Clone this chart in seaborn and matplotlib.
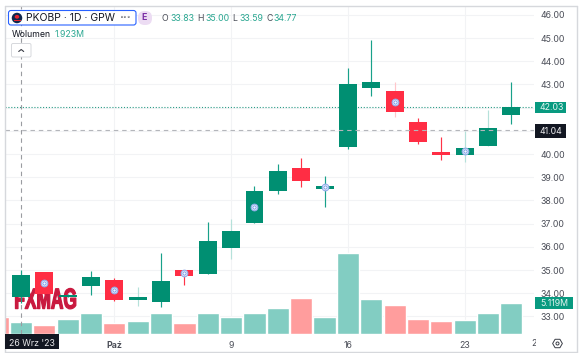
import matplotlib
matplotlib.use("Agg")
import matplotlib.pyplot as plt
import numpy as np
import pandas as pd
import seaborn as sns
from matplotlib import font_manager as fm
from matplotlib.patches import Rectangle, FancyBboxPatch, Ellipse
from matplotlib.patheffects import AbstractPathEffect
from matplotlib.transforms import Affine2D, Bbox

# ---------- data ----------
sessions = list(range(22))
opens  = [33.83,34.91,33.85,34.32,34.57,33.72,33.63,34.99,34.83,35.96,37.03,38.40,39.40,38.50,40.31,42.86,42.72,41.37,40.09,39.97,40.34,41.69]
closes = [34.77,33.97,33.92,34.70,33.71,33.85,34.54,34.76,36.26,36.68,38.40,39.28,38.84,38.62,43.00,43.09,41.80,40.50,39.97,40.26,41.11,42.03]
highs  = [35.00,34.93,33.95,34.97,34.66,34.25,35.75,34.99,37.07,37.20,38.62,39.57,39.83,39.05,43.69,44.91,43.09,41.55,40.73,41.00,41.90,43.09]
lows   = [33.59,33.95,33.83,33.93,33.68,33.45,33.39,34.35,34.83,35.49,37.03,38.28,38.59,37.73,40.23,42.50,41.61,40.43,39.74,39.66,40.34,41.29]
vol_sessions = list(range(-1,22))
volumes = [2.78,1.923,1.42,2.41,3.39,1.85,2.18,3.49,1.85,3.49,2.73,3.39,4.26,5.89,2.73,13.31,5.68,4.80,2.41,2.08,2.29,3.49,5.119]
vol_prev_dir = "down"
marked_sessions = [1,4,7,10,13,16,19]
faded_wicks = [5,9,16,19,20]
price_ticks = list(range(33,47))
date_ticks = [4,9,14,19]
date_labels = ["Paź","9","16","23"]
last_price, cross_price = 42.03, 41.04

# ---------- colours ----------
GREEN, RED = "#008f72", "#ff2d44"
WG, WR = "#18a18a", "#ff3347"
WGF, WRF = "#b5e1da", "#ffc6ca"
VG, VR = "#82cdc2", "#ff9d9d"
GRID, BORDER = "#f2f3f5", "#d6d8dc"
TXT, DARK = "#4a4d57", "#131722"
TEAL = "#2aa791"
FS = 6.3

sns.set_theme(style="white")
plt.rcParams["font.family"] = ["Inter", "DejaVu Sans"]
W, H = 583, 353
fig = plt.figure(figsize=(W/100, H/100), dpi=100, facecolor="white")

L, R, T, B = 5, 534, 6, 334
rect = [L/W, 1-B/H, (R-L)/W, (B-T)/H]
axv = fig.add_axes(rect, zorder=1)
ax = fig.add_axes(rect, zorder=2)
ax.patch.set_visible(False)

def fx(x): return x/W
def fy(y): return 1-y/H
def ftext(x, y, s, **kw):
    kw.setdefault("va", "center"); kw.setdefault("ha", "left")
    kw.setdefault("fontsize", FS); kw.setdefault("color", TXT); kw.setdefault("zorder", 10)
    return fig.text(fx(x), fy(y), s, **kw)
def frect(x0, y0, x1, y1, **kw):
    kw.setdefault("zorder", 9)
    p = Rectangle((fx(x0), fy(y1)), (x1-x0)/W, (y1-y0)/H, transform=fig.transFigure, lw=kw.pop("lw", 0), **kw)
    fig.add_artist(p); return p

# ---------- volume ----------
dirs = [vol_prev_dir] + ["up" if c >= o else "down" for o, c in zip(opens, closes)]
vdf = pd.DataFrame({"session": vol_sessions, "volume": volumes, "dir": dirs})
sns.barplot(data=vdf, x="session", y="volume", hue="dir", palette={"up": VG, "down": VR},
            native_scale=True, dodge=False, width=0.95, saturation=1, legend=False, ax=axv, zorder=3)
axv.set_xlabel(""); axv.set_ylabel("")
x_l, x_r = -0.685, 21.97
axv.set_xlim(x_l, x_r)
axv.set_ylim(0, (B-T)/6.11)
axv.set_xticks([]); axv.set_yticks([])
for s in axv.spines.values(): s.set_visible(False)

# ---------- candles ----------
ax.set_xlim(x_l, x_r)
ax.set_ylim(40-(B-154)/23.2, 40+(154-T)/23.2)
for s in ax.spines.values(): s.set_visible(False)
y0, y1 = ax.get_ylim()
for p in price_ticks:
    axv.plot([0,1], [(p-y0)/(y1-y0)]*2, transform=axv.transAxes, color=GRID, lw=0.8, zorder=1)
for d in date_ticks:
    axv.axvline(d, color=GRID, lw=0.8, zorder=1)

for i, o, c, h, l in zip(sessions, opens, closes, highs, lows):
    up = c >= o
    if i in faded_wicks: wc = WGF if up else WRF
    else: wc = WG if up else WR
    ax.vlines(i, l, h, color=wc, lw=0.85, zorder=3)
    ax.bar(i, abs(c-o), bottom=min(o, c), width=0.77, color=GREEN if up else RED, lw=0, zorder=4)

mx = marked_sessions
my = [(opens[i]+closes[i])/2 for i in mx]
ax.plot(mx, my, ls="none", marker="o", ms=4.8, mfc="white", mec="#8fabe9", mew=0.8, zorder=5)
ax.plot(mx, my, ls="none", marker="o", ms=2.4, mfc="#f4f7ff", mec="#6a90e2", mew=0.6, zorder=6)

ax.axhline(last_price, color="#2b9c87", lw=0.8, ls=(0,(1,1.6)), zorder=2)
ax.axhline(cross_price, color="#b4b6bb", lw=0.8, ls=(0,(4,3.5)), zorder=7)
ax.axvline(0, color="#9a9ca1", lw=0.8, ls=(0,(4,3.5)), zorder=2)

# ---------- axes labels ----------
ax.set_xticks(date_ticks); ax.set_xticklabels(date_labels, fontsize=FS, color=TXT)
ax.set_yticks(price_ticks); ax.yaxis.tick_right()
ax.set_yticklabels([f"{p:.2f}" for p in price_ticks], fontsize=FS, color=TXT)
ax.tick_params(axis="y", length=0, pad=4.4, right=False, labelright=True)
ax.tick_params(axis="x", length=0, pad=5)
ax.get_xticklabels()[0].set_fontweight("bold")
t26 = ax.text(22.08, -5.5/(B-T), "26", transform=ax.get_xaxis_transform(), ha="center", va="top",
              fontsize=FS, color=TXT, clip_on=True)
t26.set_clip_box(Bbox([[0,0],[535.5,H]]))

# ---------- frame ----------
for a, b in [((5,6),(5,352)),((577,6),(577,352)),((5,6),(577,6)),((5,352),(577,352))]:
    fig.add_artist(plt.Line2D([fx(a[0]),fx(b[0])],[fy(a[1]),fy(b[1])], transform=fig.transFigure, color=BORDER, lw=1, zorder=8))

# ---------- price and date boxes ----------
frect(535,102,566,113, color="#089a80")
ftext(539,107.6,"42.03", color="#e4f5f1")
frect(535,124,566,138, color=DARK)
ftext(539,131,"41.04", color="#f0f0f2")
frect(535,297,573,309, color="#089a80")
ftext(540.5,303.2,"5.119M", color="#e4f5f1")
frect(5,334,59,349, color=DARK)
ftext(32,343,"26 Wrz '23", ha="center", color="#e8e8ea")

# ---------- settings glyph ----------
fig.add_artist(plt.Line2D([fx(556.7)],[fy(343)], transform=fig.transFigure, marker="H", ms=7, mfc="none", mec="#3a3d46", mew=0.7, ls="none"))
fig.add_artist(plt.Line2D([fx(556.7)],[fy(343)], transform=fig.transFigure, marker="o", ms=2.2, mfc="none", mec="#3a3d46", mew=0.7, ls="none"))

# ---------- header ----------
def pxbox(x0,y0,x1,y1,r,**kw):
    p = FancyBboxPatch((x0, H-y1), x1-x0, y1-y0, boxstyle=f"round,pad=0,rounding_size={r}",
                       transform=Affine2D().scale(1), **kw)
    fig.add_artist(p); return p
pxbox(8.5,10.5,136,25,2.5, fc="white", ec="#2962ff", lw=0.8, zorder=9)
pxbox(138,11,152,25,6.5, fc="#ecdcf3", ec="none", lw=0, zorder=9)
ftext(144.2,18,"E",ha="center",color="#7b2fa5",fontweight="bold")
fig.add_artist(Ellipse((17,H-18),10.5,10.5,transform=Affine2D().scale(1),fc="#10284e",ec="none",zorder=10))
fig.add_artist(Ellipse((17,H-16.8),4.6,3.8,transform=Affine2D().scale(1),fc="#e5252f",ec="none",zorder=11))
frect(13.5,20,20.5,21,color="#e5252f",zorder=11)
ftext(26.5,18.2,"PKOBP · 1D · GPW",color=DARK,fontsize=7.5)
ftext(125,17.2,"∘∘∘",ha="center",color=TXT,fontsize=4.5,family="DejaVu Sans")
for x, lab, xv, val in [(161.7,"O",170,"33.83"),(197.7,"H",205,"35.00"),(232.7,"L",239,"33.59"),(266.7,"C",273,"34.77")]:
    ftext(x,18.2,lab,color=TXT)
    ftext(xv,18.2,val,color=TEAL)
ftext(12,34.2,"Wolumen",color=DARK)
ftext(54.5,34.2,"1.923M",color=TEAL)
pxbox(11.5,43.5,31,57,1.5, fc="white", ec="#d6d8dc", lw=0.7, zorder=9)
fig.add_artist(plt.Line2D([fx(18.7),fx(21.2),fx(23.7)],[fy(51.5),fy(49.5),fy(51.5)],transform=fig.transFigure,color="#3a3d46",lw=0.8,zorder=10))

# ---------- watermark ----------
class Squeeze(AbstractPathEffect):
    def __init__(self, x0, sx, stroke, color):
        super().__init__(); self.x0, self.sx, self.stroke, self.color = x0, sx, stroke, color
    def draw_path(self, renderer, gc, tpath, affine, rgbFace=None):
        t = affine + Affine2D().translate(-self.x0,0).scale(self.sx,1).translate(self.x0,0)
        g = renderer.new_gc(); g.copy_properties(gc)
        g.set_linewidth(self.stroke); g.set_foreground(self.color)
        renderer.draw_path(g, tpath, t, rgbFace)
        g.restore()
names = {f.name for f in fm.fontManager.ttflist}
wm_font = "Liberation Sans Narrow" if "Liberation Sans Narrow" in names else "Liberation Sans"
wm_sx = 0.72 if wm_font.endswith("Narrow") else 0.60
WM = "#c9193f"
wm = fig.text(fx(14.3), fy(308.6), "FXMAG", family=wm_font, fontweight="bold", fontsize=20.8,
              color=WM, ha="left", va="baseline", zorder=1.5)
wm.set_path_effects([Squeeze(14.3, wm_sx, 0.9, WM)])

fig.savefig("out.png", dpi=100)
